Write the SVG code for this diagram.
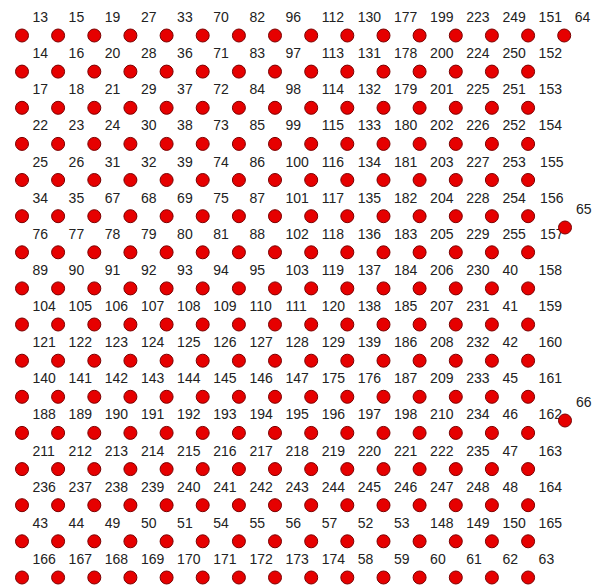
<svg xmlns="http://www.w3.org/2000/svg" width="601" height="588" viewBox="0 0 601 588">
<style>
rect.bg{fill:#fff}
circle{fill:#e60000;stroke:#7a0000;stroke-width:1}
text{font-family:"Liberation Sans",Arial,sans-serif;font-size:14px;fill:#222}
</style>
<rect class="bg" width="601" height="588"/>
<g id="connectors"/>
<g id="nodes">
<g transform="translate(0,35.5)">
<g id="n13" transform="translate(22)"><circle r="6.5"/><text x="10.5" y="-13.5">13</text></g>
<g id="n15" transform="translate(58.1)"><circle r="6.5"/><text x="10.5" y="-13.5">15</text></g>
<g id="n19" transform="translate(94.3)"><circle r="6.5"/><text x="10.5" y="-13.5">19</text></g>
<g id="n27" transform="translate(130.4)"><circle r="6.5"/><text x="10.5" y="-13.5">27</text></g>
<g id="n33" transform="translate(166.6)"><circle r="6.5"/><text x="10.5" y="-13.5">33</text></g>
<g id="n70" transform="translate(202.7)"><circle r="6.5"/><text x="10.5" y="-13.5">70</text></g>
<g id="n82" transform="translate(238.9)"><circle r="6.5"/><text x="10.5" y="-13.5">82</text></g>
<g id="n96" transform="translate(275)"><circle r="6.5"/><text x="10.5" y="-13.5">96</text></g>
<g id="n112" transform="translate(311.2)"><circle r="6.5"/><text x="10.5" y="-13.5">112</text></g>
<g id="n130" transform="translate(347.3)"><circle r="6.5"/><text x="10.5" y="-13.5">130</text></g>
<g id="n177" transform="translate(383.5)"><circle r="6.5"/><text x="10.5" y="-13.5">177</text></g>
<g id="n199" transform="translate(419.6)"><circle r="6.5"/><text x="10.5" y="-13.5">199</text></g>
<g id="n223" transform="translate(455.8)"><circle r="6.5"/><text x="10.5" y="-13.5">223</text></g>
<g id="n249" transform="translate(491.9)"><circle r="6.5"/><text x="10.5" y="-13.5">249</text></g>
<g id="n151" transform="translate(528.1)"><circle r="6.5"/><text x="10.5" y="-13.5">151</text></g>
<g id="n64" transform="translate(564.2)"><circle r="6.5"/><text x="10.5" y="-13.5">64</text></g>
</g>
<g transform="translate(0,71.6)">
<g id="n14" transform="translate(22)"><circle r="6.5"/><text x="10.5" y="-13.5">14</text></g>
<g id="n16" transform="translate(58.1)"><circle r="6.5"/><text x="10.5" y="-13.5">16</text></g>
<g id="n20" transform="translate(94.3)"><circle r="6.5"/><text x="10.5" y="-13.5">20</text></g>
<g id="n28" transform="translate(130.4)"><circle r="6.5"/><text x="10.5" y="-13.5">28</text></g>
<g id="n36" transform="translate(166.6)"><circle r="6.5"/><text x="10.5" y="-13.5">36</text></g>
<g id="n71" transform="translate(202.7)"><circle r="6.5"/><text x="10.5" y="-13.5">71</text></g>
<g id="n83" transform="translate(238.9)"><circle r="6.5"/><text x="10.5" y="-13.5">83</text></g>
<g id="n97" transform="translate(275)"><circle r="6.5"/><text x="10.5" y="-13.5">97</text></g>
<g id="n113" transform="translate(311.2)"><circle r="6.5"/><text x="10.5" y="-13.5">113</text></g>
<g id="n131" transform="translate(347.3)"><circle r="6.5"/><text x="10.5" y="-13.5">131</text></g>
<g id="n178" transform="translate(383.5)"><circle r="6.5"/><text x="10.5" y="-13.5">178</text></g>
<g id="n200" transform="translate(419.6)"><circle r="6.5"/><text x="10.5" y="-13.5">200</text></g>
<g id="n224" transform="translate(455.8)"><circle r="6.5"/><text x="10.5" y="-13.5">224</text></g>
<g id="n250" transform="translate(491.9)"><circle r="6.5"/><text x="10.5" y="-13.5">250</text></g>
<g id="n152" transform="translate(528.1)"><circle r="6.5"/><text x="10.5" y="-13.5">152</text></g>
</g>
<g transform="translate(0,107.8)">
<g id="n17" transform="translate(22)"><circle r="6.5"/><text x="10.5" y="-13.5">17</text></g>
<g id="n18" transform="translate(58.1)"><circle r="6.5"/><text x="10.5" y="-13.5">18</text></g>
<g id="n21" transform="translate(94.3)"><circle r="6.5"/><text x="10.5" y="-13.5">21</text></g>
<g id="n29" transform="translate(130.4)"><circle r="6.5"/><text x="10.5" y="-13.5">29</text></g>
<g id="n37" transform="translate(166.6)"><circle r="6.5"/><text x="10.5" y="-13.5">37</text></g>
<g id="n72" transform="translate(202.7)"><circle r="6.5"/><text x="10.5" y="-13.5">72</text></g>
<g id="n84" transform="translate(238.9)"><circle r="6.5"/><text x="10.5" y="-13.5">84</text></g>
<g id="n98" transform="translate(275)"><circle r="6.5"/><text x="10.5" y="-13.5">98</text></g>
<g id="n114" transform="translate(311.2)"><circle r="6.5"/><text x="10.5" y="-13.5">114</text></g>
<g id="n132" transform="translate(347.3)"><circle r="6.5"/><text x="10.5" y="-13.5">132</text></g>
<g id="n179" transform="translate(383.5)"><circle r="6.5"/><text x="10.5" y="-13.5">179</text></g>
<g id="n201" transform="translate(419.6)"><circle r="6.5"/><text x="10.5" y="-13.5">201</text></g>
<g id="n225" transform="translate(455.8)"><circle r="6.5"/><text x="10.5" y="-13.5">225</text></g>
<g id="n251" transform="translate(491.9)"><circle r="6.5"/><text x="10.5" y="-13.5">251</text></g>
<g id="n153" transform="translate(528.1)"><circle r="6.5"/><text x="10.5" y="-13.5">153</text></g>
</g>
<g transform="translate(0,143.9)">
<g id="n22" transform="translate(22)"><circle r="6.5"/><text x="10.5" y="-13.5">22</text></g>
<g id="n23" transform="translate(58.1)"><circle r="6.5"/><text x="10.5" y="-13.5">23</text></g>
<g id="n24" transform="translate(94.3)"><circle r="6.5"/><text x="10.5" y="-13.5">24</text></g>
<g id="n30" transform="translate(130.4)"><circle r="6.5"/><text x="10.5" y="-13.5">30</text></g>
<g id="n38" transform="translate(166.6)"><circle r="6.5"/><text x="10.5" y="-13.5">38</text></g>
<g id="n73" transform="translate(202.7)"><circle r="6.5"/><text x="10.5" y="-13.5">73</text></g>
<g id="n85" transform="translate(238.9)"><circle r="6.5"/><text x="10.5" y="-13.5">85</text></g>
<g id="n99" transform="translate(275)"><circle r="6.5"/><text x="10.5" y="-13.5">99</text></g>
<g id="n115" transform="translate(311.2)"><circle r="6.5"/><text x="10.5" y="-13.5">115</text></g>
<g id="n133" transform="translate(347.3)"><circle r="6.5"/><text x="10.5" y="-13.5">133</text></g>
<g id="n180" transform="translate(383.5)"><circle r="6.5"/><text x="10.5" y="-13.5">180</text></g>
<g id="n202" transform="translate(419.6)"><circle r="6.5"/><text x="10.5" y="-13.5">202</text></g>
<g id="n226" transform="translate(455.8)"><circle r="6.5"/><text x="10.5" y="-13.5">226</text></g>
<g id="n252" transform="translate(491.9)"><circle r="6.5"/><text x="10.5" y="-13.5">252</text></g>
<g id="n154" transform="translate(528.1)"><circle r="6.5"/><text x="10.5" y="-13.5">154</text></g>
</g>
<g transform="translate(0,180)">
<g id="n25" transform="translate(22)"><circle r="6.5"/><text x="10.5" y="-13.5">25</text></g>
<g id="n26" transform="translate(58.1)"><circle r="6.5"/><text x="10.5" y="-13.5">26</text></g>
<g id="n31" transform="translate(94.3)"><circle r="6.5"/><text x="10.5" y="-13.5">31</text></g>
<g id="n32" transform="translate(130.4)"><circle r="6.5"/><text x="10.5" y="-13.5">32</text></g>
<g id="n39" transform="translate(166.6)"><circle r="6.5"/><text x="10.5" y="-13.5">39</text></g>
<g id="n74" transform="translate(202.7)"><circle r="6.5"/><text x="10.5" y="-13.5">74</text></g>
<g id="n86" transform="translate(238.9)"><circle r="6.5"/><text x="10.5" y="-13.5">86</text></g>
<g id="n100" transform="translate(275)"><circle r="6.5"/><text x="10.5" y="-13.5">100</text></g>
<g id="n116" transform="translate(311.2)"><circle r="6.5"/><text x="10.5" y="-13.5">116</text></g>
<g id="n134" transform="translate(347.3)"><circle r="6.5"/><text x="10.5" y="-13.5">134</text></g>
<g id="n181" transform="translate(383.5)"><circle r="6.5"/><text x="10.5" y="-13.5">181</text></g>
<g id="n203" transform="translate(419.6)"><circle r="6.5"/><text x="10.5" y="-13.5">203</text></g>
<g id="n227" transform="translate(455.8)"><circle r="6.5"/><text x="10.5" y="-13.5">227</text></g>
<g id="n253" transform="translate(491.9)"><circle r="6.5"/><text x="10.5" y="-13.5">253</text></g>
<g id="n155" transform="translate(528.1)"><circle r="6.5"/><text x="12" y="-13.5">155</text></g>
</g>
<g transform="translate(0,216.2)">
<g id="n34" transform="translate(22)"><circle r="6.5"/><text x="10.5" y="-13.5">34</text></g>
<g id="n35" transform="translate(58.1)"><circle r="6.5"/><text x="10.5" y="-13.5">35</text></g>
<g id="n67" transform="translate(94.3)"><circle r="6.5"/><text x="10.5" y="-13.5">67</text></g>
<g id="n68" transform="translate(130.4)"><circle r="6.5"/><text x="10.5" y="-13.5">68</text></g>
<g id="n69" transform="translate(166.6)"><circle r="6.5"/><text x="10.5" y="-13.5">69</text></g>
<g id="n75" transform="translate(202.7)"><circle r="6.5"/><text x="10.5" y="-13.5">75</text></g>
<g id="n87" transform="translate(238.9)"><circle r="6.5"/><text x="10.5" y="-13.5">87</text></g>
<g id="n101" transform="translate(275)"><circle r="6.5"/><text x="10.5" y="-13.5">101</text></g>
<g id="n117" transform="translate(311.2)"><circle r="6.5"/><text x="10.5" y="-13.5">117</text></g>
<g id="n135" transform="translate(347.3)"><circle r="6.5"/><text x="10.5" y="-13.5">135</text></g>
<g id="n182" transform="translate(383.5)"><circle r="6.5"/><text x="10.5" y="-13.5">182</text></g>
<g id="n204" transform="translate(419.6)"><circle r="6.5"/><text x="10.5" y="-13.5">204</text></g>
<g id="n228" transform="translate(455.8)"><circle r="6.5"/><text x="10.5" y="-13.5">228</text></g>
<g id="n254" transform="translate(491.9)"><circle r="6.5"/><text x="10.5" y="-13.5">254</text></g>
<g id="n156" transform="translate(528.1)"><circle r="6.5"/><text x="12" y="-13.5">156</text></g>
</g>
<g transform="translate(0,252.3)">
<g id="n76" transform="translate(22)"><circle r="6.5"/><text x="10.5" y="-13.5">76</text></g>
<g id="n77" transform="translate(58.1)"><circle r="6.5"/><text x="10.5" y="-13.5">77</text></g>
<g id="n78" transform="translate(94.3)"><circle r="6.5"/><text x="10.5" y="-13.5">78</text></g>
<g id="n79" transform="translate(130.4)"><circle r="6.5"/><text x="10.5" y="-13.5">79</text></g>
<g id="n80" transform="translate(166.6)"><circle r="6.5"/><text x="10.5" y="-13.5">80</text></g>
<g id="n81" transform="translate(202.7)"><circle r="6.5"/><text x="10.5" y="-13.5">81</text></g>
<g id="n88" transform="translate(238.9)"><circle r="6.5"/><text x="10.5" y="-13.5">88</text></g>
<g id="n102" transform="translate(275)"><circle r="6.5"/><text x="10.5" y="-13.5">102</text></g>
<g id="n118" transform="translate(311.2)"><circle r="6.5"/><text x="10.5" y="-13.5">118</text></g>
<g id="n136" transform="translate(347.3)"><circle r="6.5"/><text x="10.5" y="-13.5">136</text></g>
<g id="n183" transform="translate(383.5)"><circle r="6.5"/><text x="10.5" y="-13.5">183</text></g>
<g id="n205" transform="translate(419.6)"><circle r="6.5"/><text x="10.5" y="-13.5">205</text></g>
<g id="n229" transform="translate(455.8)"><circle r="6.5"/><text x="10.5" y="-13.5">229</text></g>
<g id="n255" transform="translate(491.9)"><circle r="6.5"/><text x="10.5" y="-13.5">255</text></g>
<g id="n157" transform="translate(528.1)"><circle r="6.5"/><text x="12" y="-13.5">157</text></g>
</g>
<g transform="translate(0,288.4)">
<g id="n89" transform="translate(22)"><circle r="6.5"/><text x="10.5" y="-13.5">89</text></g>
<g id="n90" transform="translate(58.1)"><circle r="6.5"/><text x="10.5" y="-13.5">90</text></g>
<g id="n91" transform="translate(94.3)"><circle r="6.5"/><text x="10.5" y="-13.5">91</text></g>
<g id="n92" transform="translate(130.4)"><circle r="6.5"/><text x="10.5" y="-13.5">92</text></g>
<g id="n93" transform="translate(166.6)"><circle r="6.5"/><text x="10.5" y="-13.5">93</text></g>
<g id="n94" transform="translate(202.7)"><circle r="6.5"/><text x="10.5" y="-13.5">94</text></g>
<g id="n95" transform="translate(238.9)"><circle r="6.5"/><text x="10.5" y="-13.5">95</text></g>
<g id="n103" transform="translate(275)"><circle r="6.5"/><text x="10.5" y="-13.5">103</text></g>
<g id="n119" transform="translate(311.2)"><circle r="6.5"/><text x="10.5" y="-13.5">119</text></g>
<g id="n137" transform="translate(347.3)"><circle r="6.5"/><text x="10.5" y="-13.5">137</text></g>
<g id="n184" transform="translate(383.5)"><circle r="6.5"/><text x="10.5" y="-13.5">184</text></g>
<g id="n206" transform="translate(419.6)"><circle r="6.5"/><text x="10.5" y="-13.5">206</text></g>
<g id="n230" transform="translate(455.8)"><circle r="6.5"/><text x="10.5" y="-13.5">230</text></g>
<g id="n40" transform="translate(491.9)"><circle r="6.5"/><text x="10.5" y="-13.5">40</text></g>
<g id="n158" transform="translate(528.1)"><circle r="6.5"/><text x="10.5" y="-13.5">158</text></g>
</g>
<g transform="translate(0,324.5)">
<g id="n104" transform="translate(22)"><circle r="6.5"/><text x="10.5" y="-13.5">104</text></g>
<g id="n105" transform="translate(58.1)"><circle r="6.5"/><text x="10.5" y="-13.5">105</text></g>
<g id="n106" transform="translate(94.3)"><circle r="6.5"/><text x="10.5" y="-13.5">106</text></g>
<g id="n107" transform="translate(130.4)"><circle r="6.5"/><text x="10.5" y="-13.5">107</text></g>
<g id="n108" transform="translate(166.6)"><circle r="6.5"/><text x="10.5" y="-13.5">108</text></g>
<g id="n109" transform="translate(202.7)"><circle r="6.5"/><text x="10.5" y="-13.5">109</text></g>
<g id="n110" transform="translate(238.9)"><circle r="6.5"/><text x="10.5" y="-13.5">110</text></g>
<g id="n111" transform="translate(275)"><circle r="6.5"/><text x="10.5" y="-13.5">111</text></g>
<g id="n120" transform="translate(311.2)"><circle r="6.5"/><text x="10.5" y="-13.5">120</text></g>
<g id="n138" transform="translate(347.3)"><circle r="6.5"/><text x="10.5" y="-13.5">138</text></g>
<g id="n185" transform="translate(383.5)"><circle r="6.5"/><text x="10.5" y="-13.5">185</text></g>
<g id="n207" transform="translate(419.6)"><circle r="6.5"/><text x="10.5" y="-13.5">207</text></g>
<g id="n231" transform="translate(455.8)"><circle r="6.5"/><text x="10.5" y="-13.5">231</text></g>
<g id="n41" transform="translate(491.9)"><circle r="6.5"/><text x="10.5" y="-13.5">41</text></g>
<g id="n159" transform="translate(528.1)"><circle r="6.5"/><text x="10.5" y="-13.5">159</text></g>
</g>
<g transform="translate(0,360.7)">
<g id="n121" transform="translate(22)"><circle r="6.5"/><text x="10.5" y="-13.5">121</text></g>
<g id="n122" transform="translate(58.1)"><circle r="6.5"/><text x="10.5" y="-13.5">122</text></g>
<g id="n123" transform="translate(94.3)"><circle r="6.5"/><text x="10.5" y="-13.5">123</text></g>
<g id="n124" transform="translate(130.4)"><circle r="6.5"/><text x="10.5" y="-13.5">124</text></g>
<g id="n125" transform="translate(166.6)"><circle r="6.5"/><text x="10.5" y="-13.5">125</text></g>
<g id="n126" transform="translate(202.7)"><circle r="6.5"/><text x="10.5" y="-13.5">126</text></g>
<g id="n127" transform="translate(238.9)"><circle r="6.5"/><text x="10.5" y="-13.5">127</text></g>
<g id="n128" transform="translate(275)"><circle r="6.5"/><text x="10.5" y="-13.5">128</text></g>
<g id="n129" transform="translate(311.2)"><circle r="6.5"/><text x="10.5" y="-13.5">129</text></g>
<g id="n139" transform="translate(347.3)"><circle r="6.5"/><text x="10.5" y="-13.5">139</text></g>
<g id="n186" transform="translate(383.5)"><circle r="6.5"/><text x="10.5" y="-13.5">186</text></g>
<g id="n208" transform="translate(419.6)"><circle r="6.5"/><text x="10.5" y="-13.5">208</text></g>
<g id="n232" transform="translate(455.8)"><circle r="6.5"/><text x="10.5" y="-13.5">232</text></g>
<g id="n42" transform="translate(491.9)"><circle r="6.5"/><text x="10.5" y="-13.5">42</text></g>
<g id="n160" transform="translate(528.1)"><circle r="6.5"/><text x="10.5" y="-13.5">160</text></g>
</g>
<g transform="translate(0,396.8)">
<g id="n140" transform="translate(22)"><circle r="6.5"/><text x="10.5" y="-13.5">140</text></g>
<g id="n141" transform="translate(58.1)"><circle r="6.5"/><text x="10.5" y="-13.5">141</text></g>
<g id="n142" transform="translate(94.3)"><circle r="6.5"/><text x="10.5" y="-13.5">142</text></g>
<g id="n143" transform="translate(130.4)"><circle r="6.5"/><text x="10.5" y="-13.5">143</text></g>
<g id="n144" transform="translate(166.6)"><circle r="6.5"/><text x="10.5" y="-13.5">144</text></g>
<g id="n145" transform="translate(202.7)"><circle r="6.5"/><text x="10.5" y="-13.5">145</text></g>
<g id="n146" transform="translate(238.9)"><circle r="6.5"/><text x="10.5" y="-13.5">146</text></g>
<g id="n147" transform="translate(275)"><circle r="6.5"/><text x="10.5" y="-13.5">147</text></g>
<g id="n175" transform="translate(311.2)"><circle r="6.5"/><text x="10.5" y="-13.5">175</text></g>
<g id="n176" transform="translate(347.3)"><circle r="6.5"/><text x="10.5" y="-13.5">176</text></g>
<g id="n187" transform="translate(383.5)"><circle r="6.5"/><text x="10.5" y="-13.5">187</text></g>
<g id="n209" transform="translate(419.6)"><circle r="6.5"/><text x="10.5" y="-13.5">209</text></g>
<g id="n233" transform="translate(455.8)"><circle r="6.5"/><text x="10.5" y="-13.5">233</text></g>
<g id="n45" transform="translate(491.9)"><circle r="6.5"/><text x="10.5" y="-13.5">45</text></g>
<g id="n161" transform="translate(528.1)"><circle r="6.5"/><text x="10.5" y="-13.5">161</text></g>
</g>
<g transform="translate(0,432.9)">
<g id="n188" transform="translate(22)"><circle r="6.5"/><text x="10.5" y="-13.5">188</text></g>
<g id="n189" transform="translate(58.1)"><circle r="6.5"/><text x="10.5" y="-13.5">189</text></g>
<g id="n190" transform="translate(94.3)"><circle r="6.5"/><text x="10.5" y="-13.5">190</text></g>
<g id="n191" transform="translate(130.4)"><circle r="6.5"/><text x="10.5" y="-13.5">191</text></g>
<g id="n192" transform="translate(166.6)"><circle r="6.5"/><text x="10.5" y="-13.5">192</text></g>
<g id="n193" transform="translate(202.7)"><circle r="6.5"/><text x="10.5" y="-13.5">193</text></g>
<g id="n194" transform="translate(238.9)"><circle r="6.5"/><text x="10.5" y="-13.5">194</text></g>
<g id="n195" transform="translate(275)"><circle r="6.5"/><text x="10.5" y="-13.5">195</text></g>
<g id="n196" transform="translate(311.2)"><circle r="6.5"/><text x="10.5" y="-13.5">196</text></g>
<g id="n197" transform="translate(347.3)"><circle r="6.5"/><text x="10.5" y="-13.5">197</text></g>
<g id="n198" transform="translate(383.5)"><circle r="6.5"/><text x="10.5" y="-13.5">198</text></g>
<g id="n210" transform="translate(419.6)"><circle r="6.5"/><text x="10.5" y="-13.5">210</text></g>
<g id="n234" transform="translate(455.8)"><circle r="6.5"/><text x="10.5" y="-13.5">234</text></g>
<g id="n46" transform="translate(491.9)"><circle r="6.5"/><text x="10.5" y="-13.5">46</text></g>
<g id="n162" transform="translate(528.1)"><circle r="6.5"/><text x="10.5" y="-13.5">162</text></g>
</g>
<g transform="translate(0,469.1)">
<g id="n211" transform="translate(22)"><circle r="6.5"/><text x="10.5" y="-13.5">211</text></g>
<g id="n212" transform="translate(58.1)"><circle r="6.5"/><text x="10.5" y="-13.5">212</text></g>
<g id="n213" transform="translate(94.3)"><circle r="6.5"/><text x="10.5" y="-13.5">213</text></g>
<g id="n214" transform="translate(130.4)"><circle r="6.5"/><text x="10.5" y="-13.5">214</text></g>
<g id="n215" transform="translate(166.6)"><circle r="6.5"/><text x="10.5" y="-13.5">215</text></g>
<g id="n216" transform="translate(202.7)"><circle r="6.5"/><text x="10.5" y="-13.5">216</text></g>
<g id="n217" transform="translate(238.9)"><circle r="6.5"/><text x="10.5" y="-13.5">217</text></g>
<g id="n218" transform="translate(275)"><circle r="6.5"/><text x="10.5" y="-13.5">218</text></g>
<g id="n219" transform="translate(311.2)"><circle r="6.5"/><text x="10.5" y="-13.5">219</text></g>
<g id="n220" transform="translate(347.3)"><circle r="6.5"/><text x="10.5" y="-13.5">220</text></g>
<g id="n221" transform="translate(383.5)"><circle r="6.5"/><text x="10.5" y="-13.5">221</text></g>
<g id="n222" transform="translate(419.6)"><circle r="6.5"/><text x="10.5" y="-13.5">222</text></g>
<g id="n235" transform="translate(455.8)"><circle r="6.5"/><text x="10.5" y="-13.5">235</text></g>
<g id="n47" transform="translate(491.9)"><circle r="6.5"/><text x="10.5" y="-13.5">47</text></g>
<g id="n163" transform="translate(528.1)"><circle r="6.5"/><text x="10.5" y="-13.5">163</text></g>
</g>
<g transform="translate(0,505.2)">
<g id="n236" transform="translate(22)"><circle r="6.5"/><text x="10.5" y="-13.5">236</text></g>
<g id="n237" transform="translate(58.1)"><circle r="6.5"/><text x="10.5" y="-13.5">237</text></g>
<g id="n238" transform="translate(94.3)"><circle r="6.5"/><text x="10.5" y="-13.5">238</text></g>
<g id="n239" transform="translate(130.4)"><circle r="6.5"/><text x="10.5" y="-13.5">239</text></g>
<g id="n240" transform="translate(166.6)"><circle r="6.5"/><text x="10.5" y="-13.5">240</text></g>
<g id="n241" transform="translate(202.7)"><circle r="6.5"/><text x="10.5" y="-13.5">241</text></g>
<g id="n242" transform="translate(238.9)"><circle r="6.5"/><text x="10.5" y="-13.5">242</text></g>
<g id="n243" transform="translate(275)"><circle r="6.5"/><text x="10.5" y="-13.5">243</text></g>
<g id="n244" transform="translate(311.2)"><circle r="6.5"/><text x="10.5" y="-13.5">244</text></g>
<g id="n245" transform="translate(347.3)"><circle r="6.5"/><text x="10.5" y="-13.5">245</text></g>
<g id="n246" transform="translate(383.5)"><circle r="6.5"/><text x="10.5" y="-13.5">246</text></g>
<g id="n247" transform="translate(419.6)"><circle r="6.5"/><text x="10.5" y="-13.5">247</text></g>
<g id="n248" transform="translate(455.8)"><circle r="6.5"/><text x="10.5" y="-13.5">248</text></g>
<g id="n48" transform="translate(491.9)"><circle r="6.5"/><text x="10.5" y="-13.5">48</text></g>
<g id="n164" transform="translate(528.1)"><circle r="6.5"/><text x="10.5" y="-13.5">164</text></g>
</g>
<g transform="translate(0,541.3)">
<g id="n43" transform="translate(22)"><circle r="6.5"/><text x="10.5" y="-13.5">43</text></g>
<g id="n44" transform="translate(58.1)"><circle r="6.5"/><text x="10.5" y="-13.5">44</text></g>
<g id="n49" transform="translate(94.3)"><circle r="6.5"/><text x="10.5" y="-13.5">49</text></g>
<g id="n50" transform="translate(130.4)"><circle r="6.5"/><text x="10.5" y="-13.5">50</text></g>
<g id="n51" transform="translate(166.6)"><circle r="6.5"/><text x="10.5" y="-13.5">51</text></g>
<g id="n54" transform="translate(202.7)"><circle r="6.5"/><text x="10.5" y="-13.5">54</text></g>
<g id="n55" transform="translate(238.9)"><circle r="6.5"/><text x="10.5" y="-13.5">55</text></g>
<g id="n56" transform="translate(275)"><circle r="6.5"/><text x="10.5" y="-13.5">56</text></g>
<g id="n57" transform="translate(311.2)"><circle r="6.5"/><text x="10.5" y="-13.5">57</text></g>
<g id="n52" transform="translate(347.3)"><circle r="6.5"/><text x="10.5" y="-13.5">52</text></g>
<g id="n53" transform="translate(383.5)"><circle r="6.5"/><text x="10.5" y="-13.5">53</text></g>
<g id="n148" transform="translate(419.6)"><circle r="6.5"/><text x="10.5" y="-13.5">148</text></g>
<g id="n149" transform="translate(455.8)"><circle r="6.5"/><text x="10.5" y="-13.5">149</text></g>
<g id="n150" transform="translate(491.9)"><circle r="6.5"/><text x="10.5" y="-13.5">150</text></g>
<g id="n165" transform="translate(528.1)"><circle r="6.5"/><text x="10.5" y="-13.5">165</text></g>
</g>
<g transform="translate(0,577.5)">
<g id="n166" transform="translate(22)"><circle r="6.5"/><text x="10.5" y="-13.5">166</text></g>
<g id="n167" transform="translate(58.1)"><circle r="6.5"/><text x="10.5" y="-13.5">167</text></g>
<g id="n168" transform="translate(94.3)"><circle r="6.5"/><text x="10.5" y="-13.5">168</text></g>
<g id="n169" transform="translate(130.4)"><circle r="6.5"/><text x="10.5" y="-13.5">169</text></g>
<g id="n170" transform="translate(166.6)"><circle r="6.5"/><text x="10.5" y="-13.5">170</text></g>
<g id="n171" transform="translate(202.7)"><circle r="6.5"/><text x="10.5" y="-13.5">171</text></g>
<g id="n172" transform="translate(238.9)"><circle r="6.5"/><text x="10.5" y="-13.5">172</text></g>
<g id="n173" transform="translate(275)"><circle r="6.5"/><text x="10.5" y="-13.5">173</text></g>
<g id="n174" transform="translate(311.2)"><circle r="6.5"/><text x="10.5" y="-13.5">174</text></g>
<g id="n58" transform="translate(347.3)"><circle r="6.5"/><text x="10.5" y="-13.5">58</text></g>
<g id="n59" transform="translate(383.5)"><circle r="6.5"/><text x="10.5" y="-13.5">59</text></g>
<g id="n60" transform="translate(419.6)"><circle r="6.5"/><text x="10.5" y="-13.5">60</text></g>
<g id="n61" transform="translate(455.8)"><circle r="6.5"/><text x="10.5" y="-13.5">61</text></g>
<g id="n62" transform="translate(491.9)"><circle r="6.5"/><text x="10.5" y="-13.5">62</text></g>
<g id="n63" transform="translate(528.1)"><circle r="6.5"/><text x="10.5" y="-13.5">63</text></g>
</g>
<g id="n65" transform="translate(565,227.5)"><circle r="6.5"/><text x="11" y="-14">65</text></g>
<g id="n66" transform="translate(565,420.5)"><circle r="6.5"/><text x="11" y="-14">66</text></g>
</g>
</svg>
